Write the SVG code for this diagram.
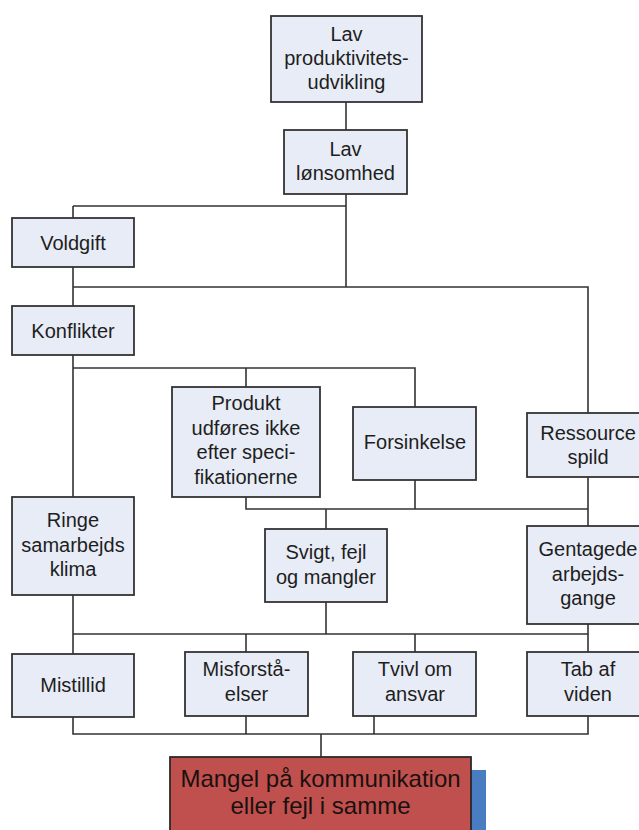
<svg xmlns="http://www.w3.org/2000/svg" width="639" height="830" viewBox="0 0 639 830">
  <style>
    .box { fill: #e7ecf6; stroke: #333333; stroke-width: 1.8; }
    .lbl { font-family: "Liberation Sans", Arial, sans-serif; font-size: 20px; fill: #1e1e1e; text-anchor: middle; }
    .big { font-size: 24px; fill: #1a1010; }
    .wire { fill: none; stroke: #333333; stroke-width: 1.6; }
  </style>
  <rect width="639" height="830" fill="#ffffff"/>

  <g id="connectors" class="wire">
    <path d="M346 102 V130"/>
    <path d="M346 194 V287 M73 206 H346 M73 206 V218"/>
    <path d="M73 267 V306 M73 287 H588 V413"/>
    <path d="M73 355 V497 M73 368 H415 V407 M246 368 V387"/>
    <path d="M246 497 V509 H588 M415 480 V509 M588 477 V526 M326 509 V529"/>
    <path d="M73 595 V654 M73 634 H588 M326 602 V634 M588 624 V652 M246 634 V652 M415 634 V652"/>
    <path d="M73 717 V734 H588 V716 M246 716 V734 M374 716 V734 M321 734 V757"/>
  </g>

  <g id="lav-produktivitet">
    <rect class="box" x="271" y="16" width="151" height="86"/>
    <text class="lbl" x="346.5" y="41">Lav</text>
    <text class="lbl" x="346.5" y="65">produktivitets-</text>
    <text class="lbl" x="346.5" y="89">udvikling</text>
  </g>
  <g id="lav-lonsomhed">
    <rect class="box" x="284" y="130" width="123" height="64"/>
    <text class="lbl" x="345.5" y="156">Lav</text>
    <text class="lbl" x="345.5" y="180">lønsomhed</text>
  </g>
  <g id="voldgift">
    <rect class="box" x="12" y="218" width="122" height="49"/>
    <text class="lbl" x="73" y="249.5">Voldgift</text>
  </g>
  <g id="konflikter">
    <rect class="box" x="12" y="306" width="122" height="49"/>
    <text class="lbl" x="73" y="337.5">Konflikter</text>
  </g>
  <g id="produkt">
    <rect class="box" x="172" y="387" width="148" height="110"/>
    <text class="lbl" x="246" y="410">Produkt</text>
    <text class="lbl" x="246" y="435">udføres ikke</text>
    <text class="lbl" x="246" y="459">efter speci-</text>
    <text class="lbl" x="246" y="484">fikationerne</text>
  </g>
  <g id="forsinkelse">
    <rect class="box" x="353" y="407" width="123" height="73"/>
    <text class="lbl" x="415" y="449">Forsinkelse</text>
  </g>
  <g id="ressourcespild">
    <rect class="box" x="527" y="413" width="122" height="64"/>
    <text class="lbl" x="588" y="440">Ressource</text>
    <text class="lbl" x="588" y="464">spild</text>
  </g>
  <g id="ringe-samarbejdsklima">
    <rect class="box" x="12" y="497" width="122" height="98"/>
    <text class="lbl" x="73" y="527">Ringe</text>
    <text class="lbl" x="73" y="552">samarbejds</text>
    <text class="lbl" x="73" y="576">klima</text>
  </g>
  <g id="svigt">
    <rect class="box" x="265" y="529" width="122" height="73"/>
    <text class="lbl" x="326" y="559">Svigt, fejl</text>
    <text class="lbl" x="326" y="584">og mangler</text>
  </g>
  <g id="gentagede">
    <rect class="box" x="527" y="526" width="122" height="98"/>
    <text class="lbl" x="588" y="556">Gentagede</text>
    <text class="lbl" x="588" y="581">arbejds-</text>
    <text class="lbl" x="588" y="604.5">gange</text>
  </g>
  <g id="mistillid">
    <rect class="box" x="12" y="654" width="122" height="63"/>
    <text class="lbl" x="73" y="692">Mistillid</text>
  </g>
  <g id="misforstaaelser">
    <rect class="box" x="185" y="652" width="123" height="64"/>
    <text class="lbl" x="246.5" y="676">Misforstå-</text>
    <text class="lbl" x="246.5" y="701">elser</text>
  </g>
  <g id="tvivl">
    <rect class="box" x="353" y="652" width="123" height="64"/>
    <text class="lbl" x="415" y="676">Tvivl om</text>
    <text class="lbl" x="415" y="701">ansvar</text>
  </g>
  <g id="tab-af-viden">
    <rect class="box" x="527" y="652" width="122" height="64"/>
    <text class="lbl" x="588" y="676">Tab af</text>
    <text class="lbl" x="588" y="701">viden</text>
  </g>
  <g id="mangel">
    <rect x="440" y="770" width="46" height="70" fill="#4a7cc2"/>
    <rect x="170" y="757" width="301" height="80" fill="#c0504d" stroke="#2a2a2a" stroke-width="1.8"/>
    <text class="lbl big" x="320.5" y="787">Mangel på kommunikation</text>
    <text class="lbl big" x="320.5" y="814">eller fejl i samme</text>
  </g>
</svg>
